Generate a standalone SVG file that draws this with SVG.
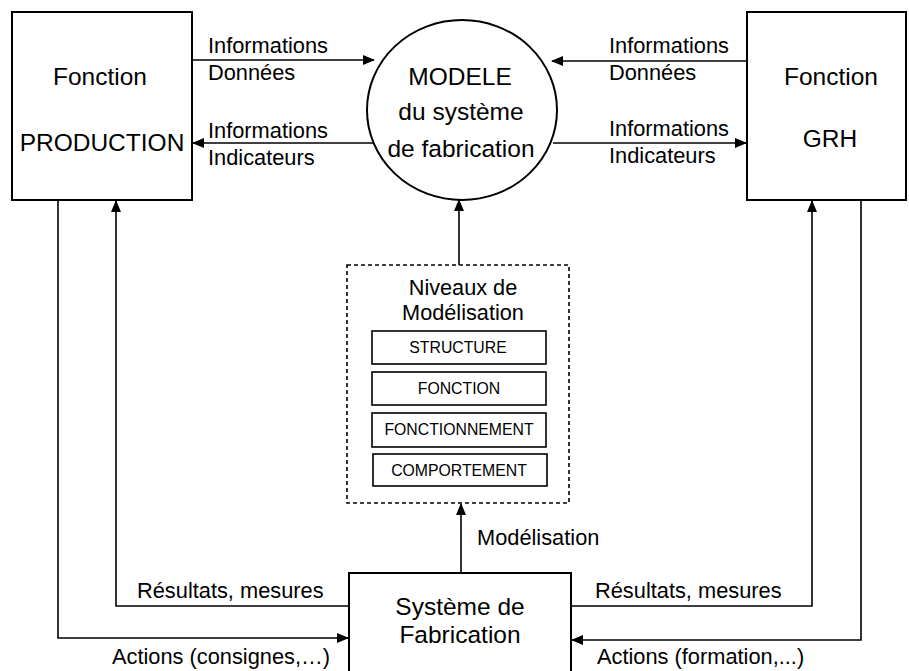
<svg xmlns="http://www.w3.org/2000/svg" width="909" height="671" viewBox="0 0 909 671">
<defs>
<marker id="ah" markerUnits="userSpaceOnUse" markerWidth="12" markerHeight="10" refX="11" refY="5" orient="auto">
<path d="M0,0 L12,5 L0,10 Z" fill="#000"/>
</marker>
<style>
.box{fill:#fff;stroke:#000;stroke-width:2}
.inner{fill:#fff;stroke:#000;stroke-width:1.6}
.dash{fill:#fff;stroke:#000;stroke-width:1.6;stroke-dasharray:4 3}
.ln{fill:none;stroke:#000;stroke-width:1.6}
.arr{fill:none;stroke:#000;stroke-width:1.6;marker-end:url(#ah)}
.t{font-family:"Liberation Sans",Arial,sans-serif;fill:#000}
.big{font-size:24.5px;text-anchor:middle}
.lbl{font-size:21.8px}
.sm{font-size:15.8px;text-anchor:middle}
.mid{font-size:21.7px;text-anchor:middle}
</style>
</defs>
<rect width="909" height="671" fill="#fff"/>
<g id="connectors">
<line class="arr" x1="192" y1="60" x2="374" y2="60"/>
<line class="arr" x1="373" y1="143" x2="193" y2="143"/>
<line class="arr" x1="747" y1="61" x2="552" y2="61"/>
<line class="arr" x1="553" y1="143" x2="746" y2="143"/>
<line class="arr" x1="459" y1="265" x2="459" y2="200"/>
<line class="arr" x1="461" y1="573" x2="461" y2="504"/>
<polyline class="arr" points="58,200 58,638 348,638"/>
<polyline class="arr" points="349,606 116,606 116,201"/>
<polyline class="arr" points="571,606 812,606 812,201"/>
<polyline class="arr" points="861,200 861,640 572,640"/>
<text class="t lbl" x="208" y="53">Informations</text>
<text class="t lbl" x="208" y="80">Données</text>
<text class="t lbl" x="208" y="138">Informations</text>
<text class="t lbl" x="208" y="165">Indicateurs</text>
<text class="t lbl" x="609" y="53">Informations</text>
<text class="t lbl" x="609" y="80">Données</text>
<text class="t lbl" x="609" y="136">Informations</text>
<text class="t lbl" x="609" y="163">Indicateurs</text>
<text class="t lbl" x="477" y="545">Modélisation</text>
<text class="t lbl" x="137" y="598">Résultats, mesures</text>
<text class="t lbl" x="595" y="598">Résultats, mesures</text>
<text class="t lbl" x="112" y="664">Actions (consignes,…)</text>
<text class="t lbl" x="597" y="664">Actions (formation,...)</text>
</g>
<g id="production">
<rect class="box" x="12" y="12" width="180" height="188"/>
<text class="t big" x="100" y="85">Fonction</text>
<text class="t big" x="102" y="151">PRODUCTION</text>
</g>
<g id="grh">
<rect class="box" x="747" y="12" width="159" height="188"/>
<text class="t big" x="831" y="85">Fonction</text>
<text class="t big" x="830" y="147">GRH</text>
</g>
<g id="modele">
<ellipse class="box" cx="462" cy="110" rx="95" ry="90"/>
<text class="t big" x="460" y="85">MODELE</text>
<text class="t big" x="461" y="120">du système</text>
<text class="t big" x="461" y="157">de fabrication</text>
</g>
<g id="niveaux">
<rect class="dash" x="347" y="265" width="222" height="238"/>
<text class="t mid" x="463" y="295">Niveaux de</text>
<text class="t mid" x="463" y="320">Modélisation</text>
<g id="structure"><rect class="inner" x="372" y="331" width="174" height="33"/><text class="t sm" x="458" y="353">STRUCTURE</text></g>
<g id="fonction"><rect class="inner" x="372" y="372" width="174" height="33"/><text class="t sm" x="459" y="394">FONCTION</text></g>
<g id="fonctionnement"><rect class="inner" x="372" y="413" width="174" height="34"/><text class="t sm" x="459" y="435">FONCTIONNEMENT</text></g>
<g id="comportement"><rect class="inner" x="373" y="454" width="174" height="32"/><text class="t sm" x="459" y="476">COMPORTEMENT</text></g>
</g>
<g id="systeme">
<rect class="box" x="349" y="573" width="222" height="110"/>
<text class="t big" x="460" y="615">Système de</text>
<text class="t big" x="460" y="643">Fabrication</text>
</g>
</svg>
